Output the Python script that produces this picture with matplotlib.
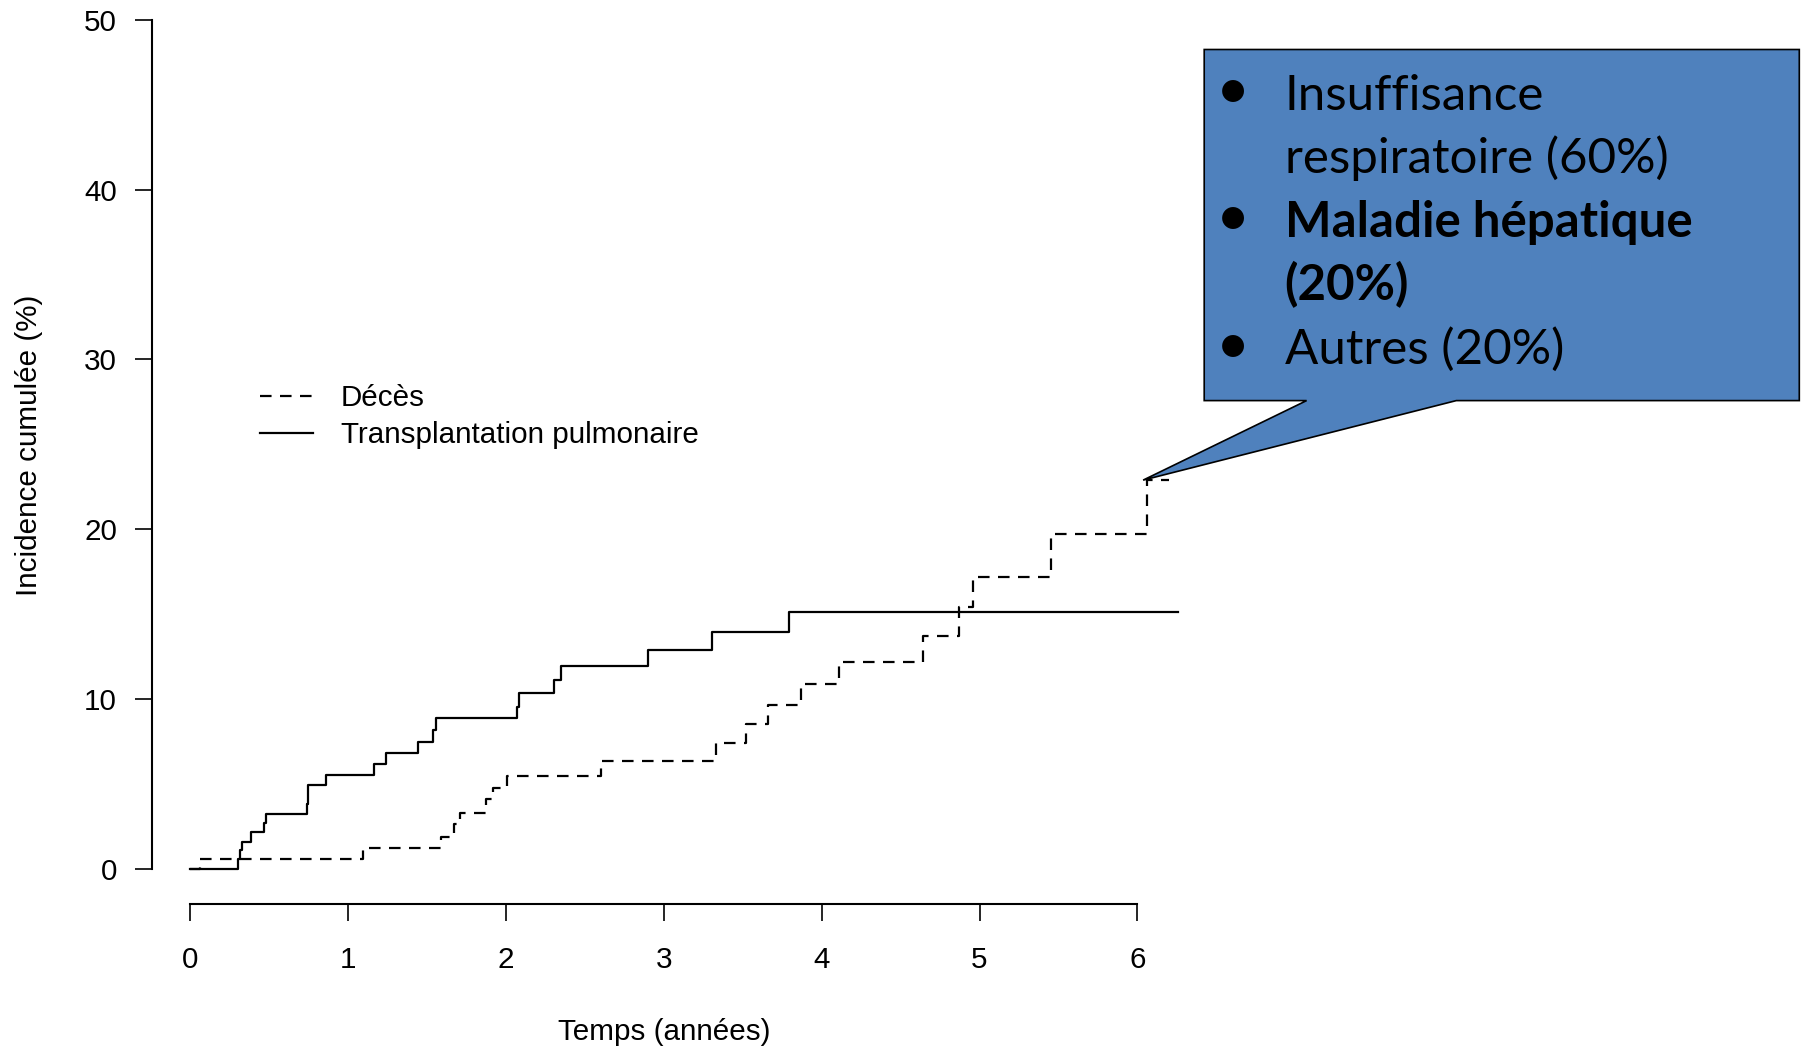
import matplotlib
matplotlib.use("Agg")
import matplotlib.pyplot as plt
from matplotlib.patches import Polygon

# ---- data ----
deces_t = [0, 0.063, 1.098, 1.588, 1.672, 1.710, 1.875, 1.917, 2.005, 2.603, 3.329,
           3.519, 3.663, 3.867, 4.110, 4.640, 4.872, 4.961, 5.451, 6.059, 6.20]
deces_v = [0, 0.58, 1.23, 1.91, 2.66, 3.33, 4.11, 4.76, 5.50, 6.37, 7.45,
           8.55, 9.66, 10.88, 12.21, 13.74, 15.41, 17.22, 19.73, 22.90, 22.90]
transp_t = [0, 0.306, 0.317, 0.327, 0.386, 0.469, 0.479, 0.739, 0.749, 0.859, 1.165,
            1.239, 1.446, 1.541, 1.556, 2.073, 2.084, 2.305, 2.350, 2.903, 3.308, 3.794, 6.259]
transp_v = [0, 0.58, 1.13, 1.62, 2.17, 2.70, 3.25, 3.82, 4.96, 5.54, 6.19,
            6.86, 7.50, 8.19, 8.88, 9.56, 10.39, 11.14, 11.96, 12.90, 13.98, 15.16, 15.16]
x_ticks = [0, 1, 2, 3, 4, 5, 6]
y_ticks = [0, 10, 20, 30, 40, 50]
labels = ["Décès", "Transplantation pulmonaire"]
callout_tip = (6.036, 22.9)
callout_lines = [("Insuffisance", "normal", True),
                 ("respiratoire (60%)", "normal", False),
                 ("Maladie hépatique", "bold", True),
                 ("(20%)", "bold", False),
                 ("Autres (20%)", "normal", True)]

W, H = 1805, 1046
fig = plt.figure(figsize=(W / 100, H / 100), dpi=100)
ax = fig.add_axes([152 / W, 1 - 903.7 / H, 1064.4 / W, (903.7 - 11.2) / H])
ax.set_xlim(-0.2407, 6.5)
ax.set_ylim(-2.031, 50.5)

main_font = "Liberation Sans"
fs = 21.3
lw = 1.6

l1, = ax.step(deces_t, deces_v, where="post", color="black", lw=lw,
              linestyle=(0, (5.2, 3.8)), label=labels[0])
l2, = ax.step(transp_t, transp_v, where="post", color="black", lw=lw,
              label=labels[1])

for s in ["top", "right"]:
    ax.spines[s].set_visible(False)
ax.spines["left"].set_bounds(0, 50)
ax.spines["bottom"].set_bounds(0, 6)
for s in ["left", "bottom"]:
    ax.spines[s].set_linewidth(1.5)
ax.set_xticks(x_ticks)
ax.set_yticks(y_ticks)
ax.set_xticklabels([str(v) for v in x_ticks], fontsize=fs, family=main_font)
ax.set_yticklabels([str(v) for v in y_ticks], fontsize=fs, family=main_font)
ax.tick_params(axis="y", length=12.2, width=1.2, pad=13)
ax.tick_params(axis="x", length=12.2, width=1.2, pad=18)

ax.set_xlabel("Temps (années)", fontsize=fs, family=main_font)
ax.xaxis.label.set_va("center")
ax.xaxis.set_label_coords((664 - 152) / 1064.4, (903.7 - 1031.5) / 892.5)
ax.set_ylabel("Incidence cumulée (%)", fontsize=fs, family=main_font)
ax.yaxis.label.set_va("center")
ax.yaxis.set_label_coords((29 - 152) / 1064.4, (903.7 - 445) / 892.5)

leg = ax.legend(handles=[l1, l2], loc="center left", frameon=False,
                bbox_to_anchor=(260 / W, 1 - 416.5 / H), bbox_transform=fig.transFigure,
                prop={"family": main_font, "size": fs}, handlelength=1.8,
                handletextpad=0.93, labelspacing=0.3, borderpad=0, borderaxespad=0)

# ---- callout ----
tip = fig.transFigure.inverted().transform(ax.transData.transform(callout_tip))
def fp(x, y):
    return (x / W, 1 - y / H)
left, top, right, bottom = 1204.2, 49.5, 1799.3, 400.6
b1, b2 = 1306.6, 1456.3
verts = [fp(left, top), fp(right, top), fp(right, bottom), fp(b2, bottom),
         tuple(tip), fp(b1, bottom), fp(left, bottom)]
poly = Polygon(verts, closed=True, facecolor="#4F81BD", edgecolor="black",
               lw=1.2, transform=fig.transFigure, clip_on=False, zorder=5)
fig.patches.append(poly)

cf = "Lato"
cfs = 35.5
baselines = [109.5, 173.2, 236.9, 300.6, 364.3]
for (txt, wt, bullet), yb in zip(callout_lines, baselines):
    fig.text(1284.7 / W, 1 - yb / H, txt, fontsize=cfs, family=cf, weight=wt,
             va="baseline", ha="left", color="black", zorder=6)
    if bullet:
        fig.text(1233 / W, 1 - (yb - 0.5) / H, "•", fontsize=cfs * 1.2, family=cf,
                 va="baseline", ha="center", color="black", zorder=6)

fig.savefig("out.png", dpi=100)
